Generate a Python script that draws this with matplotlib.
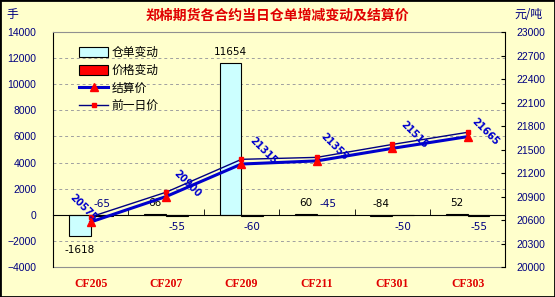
import matplotlib
matplotlib.use('Agg')
import matplotlib.pyplot as plt
import numpy as np
from matplotlib.lines import Line2D
from matplotlib.patches import Patch, Rectangle

contracts = ['CF205', 'CF207', 'CF209', 'CF211', 'CF301', 'CF303']
warrant_change = [-1618, 66, 11654, 60, -84, 52]
price_change = [-65, -55, -60, -45, -50, -55]
settle = [20575, 20900, 21315, 21355, 21515, 21665]
prev_settle = [20640, 20955, 21375, 21400, 21565, 21720]

CJK = ['Noto Sans CJK SC', 'DejaVu Sans']
BG = '#FFFFCC'
NAVY = '#000080'
BLUE = '#0000CC'

fig = plt.figure(figsize=(5.55, 2.97), dpi=100, facecolor=BG)
fig.patches.append(Rectangle((0, 0), 1, 1, transform=fig.transFigure, fill=False,
                             edgecolor='black', linewidth=2))
ax = fig.add_axes([0.0955, 0.101, 0.815, 0.791])
ax.set_facecolor(BG)

x = np.arange(len(contracts))
w = 0.29
ax.bar(x, warrant_change, width=-w, align='edge', color='#CCFFFF',
       edgecolor='black', linewidth=0.8, zorder=2)
ax.bar(x, price_change, width=w, align='edge', color='red',
       edgecolor='black', linewidth=0.8, zorder=2)

ax.set_xlim(-0.5, len(contracts) - 0.5)
ax.set_ylim(-4000, 14000)
ax.set_yticks(np.arange(-4000, 14001, 2000))
ax.tick_params(axis='y', labelsize=7.5, labelcolor=NAVY, length=0, pad=12)
for lbl in ax.get_yticklabels():
    lbl.set_fontfamily('Liberation Sans')
for yv in range(-2000, 14000, 2000):
    if yv != 0:
        ax.axhline(yv, color='#A0A0A0', linestyle=(0, (3, 3)), linewidth=0.7, zorder=1)

# x axis along zero with ticks between categories
ax.spines['bottom'].set_position(('data', 0))
ax.spines['bottom'].set_color('black')
ax.set_xticks(x + 0.5, minor=True)
ax.set_xticks([])
ax.tick_params(axis='x', which='minor', direction='in', length=4, color='black')
ax.spines['top'].set_color('#909090')
ax.spines['left'].set_color('black')
ax.spines['right'].set_visible(False)

sec = ax.secondary_xaxis(0.0)
sec.set_xticks(x)
sec.set_xticklabels(contracts)
sec.spines['bottom'].set_color('#909090')
sec.tick_params(length=0, pad=8)
for lbl in sec.get_xticklabels():
    lbl.set_fontfamily('Liberation Serif')
    lbl.set_fontweight('bold')
    lbl.set_fontsize(8.5)
    lbl.set_color('#E00000')

# bar value labels
for i, v in enumerate(warrant_change):
    if v < -500:
        ax.annotate(str(v), (x[i] - w / 2, v), xytext=(0, -10), textcoords='offset points',
                    ha='center', va='center', fontsize=7.5, color='black')
    else:
        ax.annotate(str(v), (x[i] - w / 2, max(v, 0)), xytext=(0, 8),
                    textcoords='offset points', ha='center', va='center',
                    fontsize=7.5, color='black')
price_above = [True, False, False, True, False, False]
for i, v in enumerate(price_change):
    dy = 8 if price_above[i] else -9
    ax.annotate(str(v), (x[i] + w / 2, 0), xytext=(0, dy), textcoords='offset points',
                ha='center', va='center', fontsize=7.5, color=NAVY)

ax2 = ax.twinx()
ax2.set_ylim(20000, 23000)
ax2.set_yticks(np.arange(20000, 23001, 300))
ax2.tick_params(axis='y', labelsize=7.5, labelcolor=NAVY, length=3, direction='in', pad=8)
for lbl in ax2.get_yticklabels():
    lbl.set_fontfamily('Liberation Sans')
for s in ['top', 'bottom', 'left']:
    ax2.spines[s].set_visible(False)
ax2.spines['right'].set_color('black')

ax2.plot(x, prev_settle, color=NAVY, linewidth=1, marker='s', markersize=3,
         markerfacecolor='red', markeredgecolor='red', zorder=3)
ax2.plot(x, settle, color=BLUE, linewidth=2.2, marker='^', markersize=6,
         markerfacecolor='red', markeredgecolor='red', zorder=4)
# label offsets in points (first one was moved left of its point in the original)
label_offset = [(-14, 19), (7, 18), (7, 18), (4, 19), (7, 18), (4, 12)]
for i, v in enumerate(settle):
    ax2.annotate(str(v), (x[i], v), xytext=label_offset[i], textcoords='offset points',
                 rotation=-45, rotation_mode='anchor', ha='left', va='center',
                 fontsize=7, color=BLUE, fontweight='bold')

handles = [Patch(facecolor='#CCFFFF', edgecolor='black', linewidth=0.8),
           Patch(facecolor='red', edgecolor='black', linewidth=0.8),
           Line2D([], [], color=BLUE, linewidth=2.2, marker='^', markersize=6,
                  markerfacecolor='red', markeredgecolor='red'),
           Line2D([], [], color=NAVY, linewidth=1, marker='s', markersize=3,
                  markerfacecolor='red', markeredgecolor='red')]
labels = ['仓单变动', '价格变动', '结算价', '前一日价']
ax2.legend(handles, labels, loc='upper left', bbox_to_anchor=(0.035, 0.985),
           frameon=False, prop={'family': CJK, 'size': 8.5},
           handlelength=2.4, handleheight=0.9, labelspacing=0.4, handletextpad=0.3)

fig.text(0.5, 0.948, '郑棉期货各合约当日仓单增减变动及结算价', ha='center', va='center',
         color='#E00000', fontsize=10, fontweight='bold', family=CJK)
fig.text(0.022, 0.95, '手', ha='center', va='center', color=NAVY, fontsize=8.5, family=CJK)
fig.text(0.953, 0.95, '元/吨', ha='center', va='center', color=NAVY, fontsize=8.5, family=CJK)

fig.savefig('out.png', dpi=100, facecolor=BG)
